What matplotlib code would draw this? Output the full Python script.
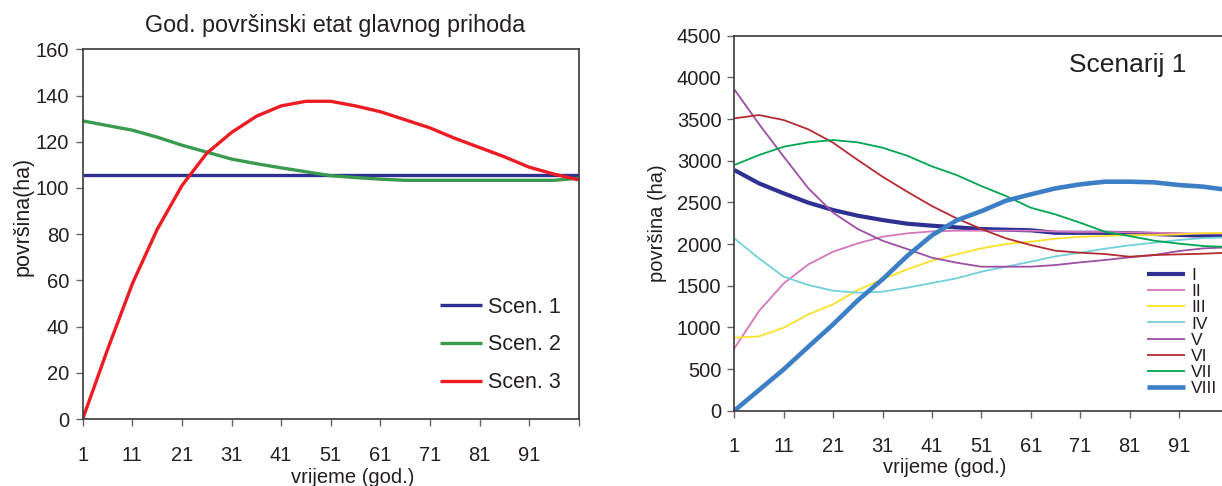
import matplotlib
matplotlib.use("Agg")
import matplotlib.pyplot as plt

plt.rcParams['font.family'] = ['Liberation Sans', 'DejaVu Sans']

# ---- data -------------------------------------------------------------
years = [1, 6, 11, 16, 21, 26, 31, 36, 41, 46, 51, 56, 61, 66, 71, 76, 81, 86, 91, 96, 101]

# annual harvest area of the main yield (ha) for three scenarios
scen1 = [105.5] * len(years)
scen2 = [129, 127, 125, 122, 118.5, 115.5, 112.5, 110.5, 108.7, 107, 105.3,
         104.5, 103.8, 103.3, 103.3, 103.3, 103.3, 103.3, 103.3, 103.3, 104.2]
scen3 = [0, 30, 58.5, 82, 101, 115, 124, 131, 135.5, 137.5, 137.5, 135.5,
         133, 129.5, 126, 121.5, 117.5, 113.5, 109, 106, 103.5]
left_labels = ["Scen. 1", "Scen. 2", "Scen. 3"]

# area by age class (ha), scenario 1
cls_I = [2888, 2728, 2608, 2496, 2408, 2340, 2288, 2244, 2220, 2200, 2180,
         2172, 2165, 2135, 2135, 2135, 2130, 2120, 2110, 2100, 2100]
cls_II = [748, 1196, 1528, 1756, 1908, 2008, 2088, 2128, 2152, 2160, 2160,
          2160, 2160, 2150, 2145, 2145, 2140, 2135, 2130, 2125, 2125]
cls_III = [876, 892, 996, 1156, 1276, 1448, 1576, 1696, 1800, 1876, 1948,
           2000, 2028, 2064, 2088, 2096, 2108, 2108, 2116, 2130, 2135]
cls_IV = [2068, 1828, 1608, 1508, 1440, 1416, 1428, 1476, 1532, 1588, 1668,
          1728, 1788, 1852, 1896, 1944, 1984, 2016, 2048, 2072, 2080]
cls_V = [3856, 3440, 3048, 2668, 2376, 2180, 2040, 1940, 1836, 1776, 1728,
         1728, 1728, 1748, 1780, 1808, 1840, 1868, 1916, 1948, 1960]
cls_VI = [3508, 3548, 3488, 3376, 3216, 3008, 2808, 2628, 2456, 2308, 2180,
          2068, 1988, 1920, 1896, 1880, 1848, 1868, 1876, 1884, 1896]
cls_VII = [2948, 3068, 3168, 3220, 3248, 3220, 3156, 3060, 2932, 2828, 2696,
           2576, 2436, 2356, 2256, 2148, 2096, 2040, 2005, 1976, 1965]
cls_VIII = [0, 248, 496, 768, 1036, 1324, 1576, 1857, 2104, 2284, 2394,
            2520, 2596, 2668, 2716, 2748, 2748, 2740, 2708, 2688, 2648]
class_labels = ["I", "II", "III", "IV", "V", "VI", "VII", "VIII"]

xticks = [1, 11, 21, 31, 41, 51, 61, 71, 81, 91, 101]
xtick_labels = ["1", "11", "21", "31", "41", "51", "61", "71", "81", "91", ""]

# ---- styling ----------------------------------------------------------
TXT = "#231f20"
SPINE = "#3a3a3a"
TICKC = "#666666"

fig = plt.figure(figsize=(12.22, 4.86), dpi=100)


def style_axes(ax, ypad, xpad):
    for s in ax.spines.values():
        s.set_color(SPINE)
        s.set_linewidth(1.2)
    ax.tick_params(axis="both", direction="out", length=5, width=1,
                   color=TICKC, labelsize=14.5, labelcolor=TXT)
    ax.tick_params(axis="y", pad=ypad)
    ax.tick_params(axis="x", pad=xpad)
    ax.set_xticks(xticks)
    ax.set_xticklabels(xtick_labels)


# ---- left panel -------------------------------------------------------
axL = fig.add_axes([0.06768, 0.13786, 0.40589, 0.76070])
left_series = [scen1, scen2, scen3]
left_colors = ["#2e3192", "#3a9a4e", "#ed1c24"]
for vals, col, lab in zip(left_series, left_colors, left_labels):
    axL.plot(years, vals, color=col, lw=2.4, label=lab, solid_capstyle="butt")
axL.set_xlim(1, 101)
axL.set_ylim(0, 160)
axL.set_yticks(range(0, 161, 20))
style_axes(axL, 4.8, 14.5)

axL.set_title("God. površinski etat glavnog prihoda", fontsize=16.8,
              color=TXT, x=0.5087, y=1.046, va="baseline", pad=0)
axL.set_ylabel("površina(ha)", fontsize=15.5, color=TXT)
axL.yaxis.label.set_verticalalignment("center")
axL.yaxis.set_label_coords(-0.121, 0.549)
axL.set_xlabel("vrijeme (god.)", fontsize=14.5, color=TXT)
axL.xaxis.label.set_verticalalignment("center")
axL.xaxis.set_label_coords(0.545, -0.158)

legL = axL.legend(loc="upper left", bbox_to_anchor=(0.7204, 0.331),
                  frameon=False, fontsize=15.5, handlelength=1.94,
                  handletextpad=0.31, labelspacing=0.78,
                  borderaxespad=0, borderpad=0)
for t in legL.get_texts():
    t.set_color(TXT)

# ---- right panel ------------------------------------------------------
axR = fig.add_axes([0.60090, 0.15494, 0.40426, 0.77160])
right_series = [cls_I, cls_II, cls_III, cls_IV, cls_V, cls_VI, cls_VII, cls_VIII]
right_colors = ["#2e3192", "#d676bd", "#fde02a", "#72d0dc",
                "#9c4fa4", "#b42b30", "#00a651", "#3d7fc6"]
right_widths = [3.0, 1.3, 1.3, 1.3, 1.3, 1.3, 1.3, 3.3]
for vals, col, lw, lab in zip(right_series, right_colors, right_widths, class_labels):
    axR.plot(years, vals, color=col, lw=lw, label=lab, solid_capstyle="butt")
axR.set_xlim(1, 101)
axR.set_ylim(0, 4500)
axR.set_yticks(range(0, 4501, 500))
style_axes(axR, 4.3, 14)
axR.spines["right"].set_visible(False)

axR.set_ylabel("površina (ha)", fontsize=14.5, color=TXT)
axR.yaxis.label.set_verticalalignment("center")
axR.yaxis.set_label_coords(-0.156, 0.5)
axR.set_xlabel("vrijeme (god.)", fontsize=14.5, color=TXT)
axR.xaxis.label.set_verticalalignment("center")
axR.xaxis.set_label_coords(0.4265, -0.152)

axR.text(0.796, 0.922, "Scenarij 1", transform=axR.transAxes,
         fontsize=19, color=TXT, ha="center", va="center")

legR = axR.legend(loc="upper left", bbox_to_anchor=(0.835, 0.381),
                  frameon=False, fontsize=12.5, handlelength=2.2,
                  handletextpad=0.34, labelspacing=0.06,
                  borderaxespad=0, borderpad=0)
for t in legR.get_texts():
    t.set_color(TXT)

fig.savefig("out.png", dpi=100)
